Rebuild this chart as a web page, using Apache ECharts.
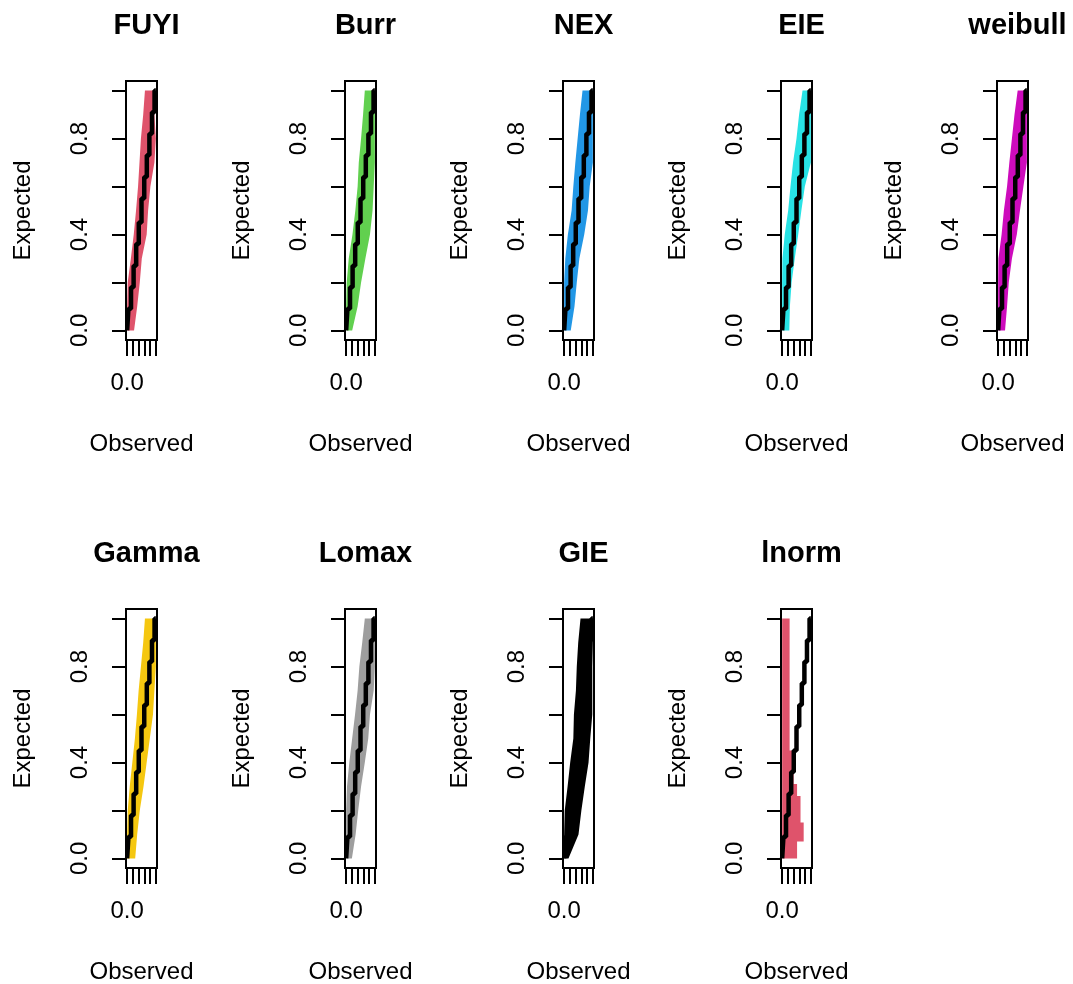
<!DOCTYPE html>
<html>
<head>
<meta charset="utf-8">
<script src="https://cdn.jsdelivr.net/npm/echarts@6/dist/echarts.min.js"></script>
<style>
html, body { margin: 0; padding: 0; background: #fff; }
#main { width: 1073px; height: 984px; }
</style>
</head>
<body>
<div id="main"></div>
<script>
// 分布名称和颜色 (R palette)
var titles = ['FUYI', 'Burr', 'NEX', 'EIE', 'weibull', 'Gamma', 'Lomax', 'GIE', 'lnorm'];
var colors = ['#DF536B', '#61D04F', '#2297E6', '#28E2E5', '#CD0BBC', '#F5C710', '#9E9E9E', '#000000', '#DF536B'];

// expected levels (top -> bottom) where the band edges were read
var levels = [1.0, 0.9, 0.8, 0.7, 0.6, 0.5, 0.4, 0.3, 0.2, 0.1, 0.0];

// observed: left / right edge of each coloured band at those levels
var fuyiLo    = [0.62, 0.56, 0.48, 0.43, 0.38, 0.31, 0.23, 0.13, 0.02, 0.00, 0.00];
var fuyiHi    = [0.98, 0.95, 1.00, 0.95, 0.81, 0.73, 0.68, 0.51, 0.44, 0.35, 0.24];
var burrLo    = [0.65, 0.59, 0.52, 0.44, 0.40, 0.32, 0.22, 0.09, 0.02, 0.00, 0.01];
var burrHi    = [1.00, 1.00, 1.00, 1.00, 0.96, 0.92, 0.83, 0.67, 0.52, 0.40, 0.21];
var nexLo     = [0.64, 0.55, 0.47, 0.39, 0.32, 0.26, 0.13, 0.04, 0.00, 0.00, 0.00];
var nexHi     = [1.00, 1.00, 1.00, 1.00, 0.89, 0.83, 0.70, 0.53, 0.44, 0.36, 0.23];
var eieLo     = [0.71, 0.59, 0.50, 0.38, 0.29, 0.21, 0.09, 0.01, 0.00, 0.00, 0.00];
var eieHi     = [1.00, 1.00, 1.00, 1.00, 0.79, 0.67, 0.56, 0.44, 0.33, 0.27, 0.25];
var weibullLo = [0.68, 0.57, 0.48, 0.39, 0.31, 0.20, 0.12, 0.01, 0.00, 0.00, 0.01];
var weibullHi = [1.00, 1.00, 1.00, 1.00, 0.88, 0.76, 0.65, 0.48, 0.37, 0.31, 0.24];
var gammaLo   = [0.62, 0.56, 0.48, 0.40, 0.34, 0.27, 0.18, 0.09, 0.02, 0.00, 0.00];
var gammaHi   = [0.95, 1.00, 1.00, 0.95, 0.90, 0.79, 0.68, 0.57, 0.44, 0.35, 0.28];
var lomaxLo   = [0.65, 0.56, 0.46, 0.40, 0.31, 0.21, 0.11, 0.03, 0.00, 0.00, 0.00];
var lomaxHi   = [1.00, 1.00, 1.00, 0.96, 0.83, 0.77, 0.65, 0.52, 0.42, 0.33, 0.20];
var gieLo     = [0.57, 0.49, 0.44, 0.41, 0.34, 0.32, 0.21, 0.12, 0.02, 0.00, 0.00];
var gieHi     = [1.00, 1.00, 0.98, 0.98, 0.98, 0.91, 0.85, 0.72, 0.60, 0.50, 0.15];

// lnorm: a bar at the left plus a stepped lower part
var lnormLevels = [1.00, 0.45, 0.45, 0.31, 0.31, 0.26, 0.26, 0.15, 0.15, 0.07, 0.07, 0.00];
var lnormLo     = [0.00, 0.00, 0.00, 0.00, 0.00, 0.00, 0.00, 0.00, 0.00, 0.00, 0.00, 0.00];
var lnormHi     = [0.26, 0.26, 0.40, 0.40, 0.52, 0.52, 0.64, 0.64, 0.75, 0.75, 0.52, 0.52];

// black reference staircase (observed = expected)
var diag = [0, 0.09, 0.18, 0.27, 0.36, 0.45, 0.55, 0.64, 0.73, 0.82, 0.91, 1.0];

var xTicks = [0, 0.2, 0.4, 0.6, 0.8, 1.0];
var yTicks = [0, 0.2, 0.4, 0.6, 0.8, 1.0];
var yLabels = [0, 0.4, 0.8];
var xLabels = [0];

var bands = [
	[levels, fuyiLo, fuyiHi], [levels, burrLo, burrHi], [levels, nexLo, nexHi],
	[levels, eieLo, eieHi], [levels, weibullLo, weibullHi], [levels, gammaLo, gammaHi],
	[levels, lomaxLo, lomaxHi], [levels, gieLo, gieHi], [lnormLevels, lnormLo, lnormHi]
];

// 布局
var colLeft = [126, 345, 563, 781, 997];
var rowTop = [81, 609];
var boxW = 31, boxH = 259;
var font = "'Liberation Sans', Arial, sans-serif";

// polygon outline, skipping repeated points
function bandPoints(lv, lo, hi) {
	var pts = [];
	function add(p) {
		var q = pts[pts.length - 1];
		if (!q || q[0] !== p[0] || q[1] !== p[1]) pts.push(p);
	}
	for (var k = 0; k < lv.length; k++) add([lo[k], lv[k]]);
	for (var k = lv.length - 1; k >= 0; k--) add([hi[k], lv[k]]);
	return pts;
}

function buildOption() {
	var option = { animation: false, backgroundColor: '#fff', title: [], grid: [], xAxis: [], yAxis: [], series: [] };
	for (var i = 0; i < titles.length; i++) {
		var c = i % 5, r = Math.floor(i / 5);
		var left = colLeft[c], top = rowTop[r];

		option.title.push({
			text: titles[i],
			left: left + boxW / 2,
			top: top - 75,
			textAlign: 'center',
			textStyle: { fontSize: 29, fontWeight: 'bold', color: '#000', fontFamily: font }
		});

		option.grid.push({
			left: left, top: top, width: boxW, height: boxH,
			outerBoundsMode: 'none',
			show: true, borderColor: '#000', borderWidth: 2
		});

		option.xAxis.push({
			type: 'value', gridIndex: i, min: -0.04, max: 1.04,
			name: 'Observed', nameLocation: 'middle', nameGap: 92,
			nameTextStyle: { fontSize: 24, color: '#000', fontFamily: font },
			axisLine: { show: false, onZero: false },
			splitLine: { show: false },
			axisTick: { show: true, inside: false, length: 16, customValues: xTicks, lineStyle: { color: '#000', width: 2 } },
			axisLabel: { customValues: xLabels, margin: 31, fontSize: 24, color: '#000', fontFamily: font,
				formatter: function(v) { return v.toFixed(1); } }
		});

		option.yAxis.push({
			type: 'value', gridIndex: i, min: -0.04, max: 1.04,
			name: 'Expected', nameLocation: 'middle', nameGap: 91, nameRotate: 90,
			nameTextStyle: { fontSize: 24, color: '#000', fontFamily: font },
			axisLine: { show: false, onZero: false },
			splitLine: { show: false },
			axisTick: { show: true, inside: false, length: 14, customValues: yTicks, lineStyle: { color: '#000', width: 2 } },
			axisLabel: { customValues: yLabels, rotate: 90, margin: 34, fontSize: 24, color: '#000', fontFamily: font,
				formatter: function(v) { return v.toFixed(1); } }
		});

		// coloured P-P band
		(function(idx, pts) {
			option.series.push({
				type: 'custom', xAxisIndex: idx, yAxisIndex: idx, silent: true, clip: true, z: 2,
				data: pts,
				renderItem: function(params, api) {
					if (params.dataIndex !== 0) return null;
					return {
						type: 'polygon',
						shape: { points: pts.map(function(p) { return api.coord(p); }) },
						style: { fill: colors[idx] }
					};
				}
			});
		})(i, bandPoints(bands[i][0], bands[i][1], bands[i][2]));

		// black staircase on the diagonal
		option.series.push({
			type: 'line', xAxisIndex: i, yAxisIndex: i, step: 'middle', silent: true, z: 3,
			showSymbol: false, symbol: 'none', clip: true,
			lineStyle: { color: '#000', width: 4.5, cap: 'butt' },
			data: diag.map(function(v) { return [v, v]; })
		});
	}
	return option;
}

var myChart = echarts.init(document.getElementById('main'));
myChart.setOption(buildOption());
</script>
</body>
</html>
